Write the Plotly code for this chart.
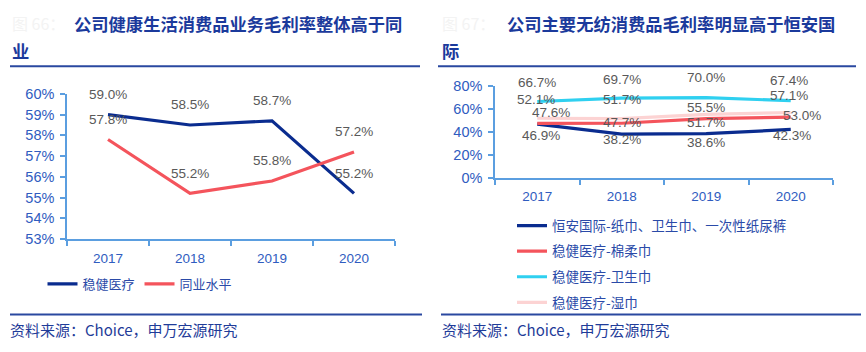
import plotly.graph_objects as go

W, H = 866, 352

# ---------------- data ----------------
years = ["2017", "2018", "2019", "2020"]

# left chart
left_wenjian = [59.0, 58.5, 58.7, 55.2]
left_industry = [57.8, 55.2, 55.8, 57.2]
left_names = ["稳健医疗", "同业水平"]
left_yticks = [53, 54, 55, 56, 57, 58, 59, 60]

# right chart
hengan = [46.9, 38.2, 38.6, 42.3]
mianrou = [47.6, 47.7, 51.7, 53.0]
weisheng = [66.7, 69.7, 70.0, 67.4]
shijin = [52.1, 51.7, 55.5, 57.1]
right_names = ["恒安国际-纸巾、卫生巾、一次性纸尿裤", "稳健医疗-棉柔巾", "稳健医疗-卫生巾", "稳健医疗-湿巾"]
right_yticks = [0, 20, 40, 60, 80]

title_left = ["公司健康生活消费品业务毛利率整体高于同", "业"]
title_right = ["公司主要无纺消费品毛利率明显高于恒安国", "际"]
prefix_left = "图 66："
prefix_right = "图 67："
source_text = "资料来源：Choice，申万宏源研究"

# ---------------- style ----------------
NAVY = "#0a2c8f"
RED = "#f4545c"
CYAN = "#2fd0f0"
PINK = "#fcd3d3"
TICK = "#2f5cc0"
AXIS = "#5b9ee0"
LABEL = "#595959"
TITLE = "#1b3a9c"
FONT = "Noto Sans CJK SC"
NUMFONT = "Liberation Sans, Arial"

def px_x(p):
    return p / W

def px_y(p):
    return 1 - p / H

fig = go.Figure()

# left traces
fig.add_trace(go.Scatter(x=years, y=left_wenjian, mode="lines", name=left_names[0],
                         line=dict(color=NAVY, width=3.2), xaxis="x", yaxis="y", legend="legend"))
fig.add_trace(go.Scatter(x=years, y=left_industry, mode="lines", name=left_names[1],
                         line=dict(color=RED, width=3.2), xaxis="x", yaxis="y", legend="legend"))

# right traces
right_series = [hengan, mianrou, weisheng, shijin]
right_colors = [NAVY, RED, CYAN, PINK]
for i, (s, c, n) in enumerate(zip(right_series, right_colors, right_names)):
    fig.add_trace(go.Scatter(x=years, y=s, mode="lines", name=n,
                             line=dict(color=c, width=3.2), xaxis="x2", yaxis="y2",
                             legend="legend2", legendgroup=f"g{i}", legendrank=i + 1))

annotations = []

# left data labels (all above)
for s in (left_wenjian, left_industry):
    for j, v in enumerate(s):
        annotations.append(dict(x=j, y=v, xref="x", yref="y", text=f"{v:.1f}%", showarrow=False,
                                yshift=20, font=dict(family=NUMFONT, size=13.5, color=LABEL)))

# right data labels with individual offsets (dx, dy in px)
right_offsets = {
    0: [(4, -11), (0, -5), (0, -9), (1, -6)],          # hengan below
    1: [(14, 11), (0, 1), (0, -4), (11, 2)],           # mianrou
    2: [(0, 19), (0, 19), (0, 20), (-2, 20)],          # weisheng above
    3: [(-1, 19), (0, 19), (0, 7), (-2, 17)],          # shijin
}
for i, s in enumerate(right_series):
    for j, v in enumerate(s):
        dx, dy = right_offsets[i][j]
        annotations.append(dict(x=j, y=v, xref="x2", yref="y2", text=f"{v:.1f}%", showarrow=False,
                                xshift=dx, yshift=dy, font=dict(family=NUMFONT, size=13.5, color=LABEL)))

# titles
for (x0, xt, lines, pre) in ((10, 72, title_left, prefix_left), (440, 505, title_right, prefix_right)):
    annotations.append(dict(x=px_x(x0), y=px_y(16), xref="paper", yref="paper", xanchor="left",
                            yanchor="middle", showarrow=False, text=pre,
                            font=dict(family=FONT, size=16, color="#f3f3f3")))
    annotations.append(dict(x=px_x(xt), y=px_y(16), xref="paper", yref="paper", xanchor="left",
                            yanchor="middle", showarrow=False, text=f"<b>{lines[0]}</b>",
                            font=dict(family=FONT, size=17.3, color=TITLE)))
    annotations.append(dict(x=px_x(x0), y=px_y(45), xref="paper", yref="paper", xanchor="left",
                            yanchor="middle", showarrow=False, text=f"<b>{lines[1]}</b>",
                            font=dict(family=FONT, size=17.3, color=TITLE)))

# sources
for x0 in (8, 440):
    annotations.append(dict(x=px_x(x0), y=px_y(337), xref="paper", yref="paper", xanchor="left",
                            yanchor="middle", showarrow=False, text=source_text,
                            font=dict(family=FONT, size=15, color="#1f3c99")))

shapes = []
for (a, b, yy) in ((10, 420, 61), (438, 856, 61), (10, 422, 321), (441, 861, 321)):
    shapes.append(dict(type="line", xref="paper", yref="paper", x0=px_x(a), x1=px_x(b),
                       y0=px_y(yy), y1=px_y(yy), line=dict(color="#2a48a0", width=2)))

axis_common = dict(showgrid=False, zeroline=False, showline=True, linecolor=AXIS, linewidth=1.5,
                   ticks="outside", tickcolor=AXIS, ticklen=5, tickwidth=1.5, fixedrange=True)
xfont = dict(family=NUMFONT, size=13.5, color=TICK)
yfont = dict(family=NUMFONT, size=14.5, color=TICK)

fig.update_layout(
    width=W, height=H,
    margin=dict(l=0, r=0, t=0, b=0),
    paper_bgcolor="white", plot_bgcolor="white",
    showlegend=True,
    xaxis=dict(domain=[px_x(67), px_x(395)], type="category", range=[-0.5, 3.5],
               tickson="boundaries", anchor="y", tickfont=xfont, ticklabelstandoff=6, **axis_common),
    yaxis=dict(domain=[px_y(242), px_y(90)], range=[53, 60], tickvals=left_yticks,
               ticktext=[f"{v}%" for v in left_yticks], anchor="x", tickfont=yfont,
               ticklabelstandoff=3, **axis_common),
    xaxis2=dict(domain=[px_x(495), px_x(833)], type="category", range=[-0.5, 3.5],
                tickson="boundaries", anchor="y2", tickfont=xfont, ticklabelstandoff=5, **axis_common),
    yaxis2=dict(domain=[px_y(178), px_y(82)], range=[0, 80], tickvals=right_yticks,
                ticktext=[f"{v}%" for v in right_yticks], anchor="x2", tickfont=yfont,
                ticklabelstandoff=3, **axis_common),
    legend=dict(orientation="h", x=px_x(140), xanchor="center", y=px_y(289), yanchor="middle",
                font=dict(family=FONT, size=13, color="#2a4aa8"), bgcolor="rgba(0,0,0,0)",
                itemwidth=30, traceorder="normal"),
    legend2=dict(orientation="v", x=px_x(512), xanchor="left", y=px_y(212), yanchor="top",
                 font=dict(family=FONT, size=13.5, color="#2a4aa8"), bgcolor="rgba(0,0,0,0)",
                 itemwidth=30, tracegroupgap=5, traceorder="grouped"),
    annotations=annotations,
    shapes=shapes,
)

fig.write_html("out.html")
